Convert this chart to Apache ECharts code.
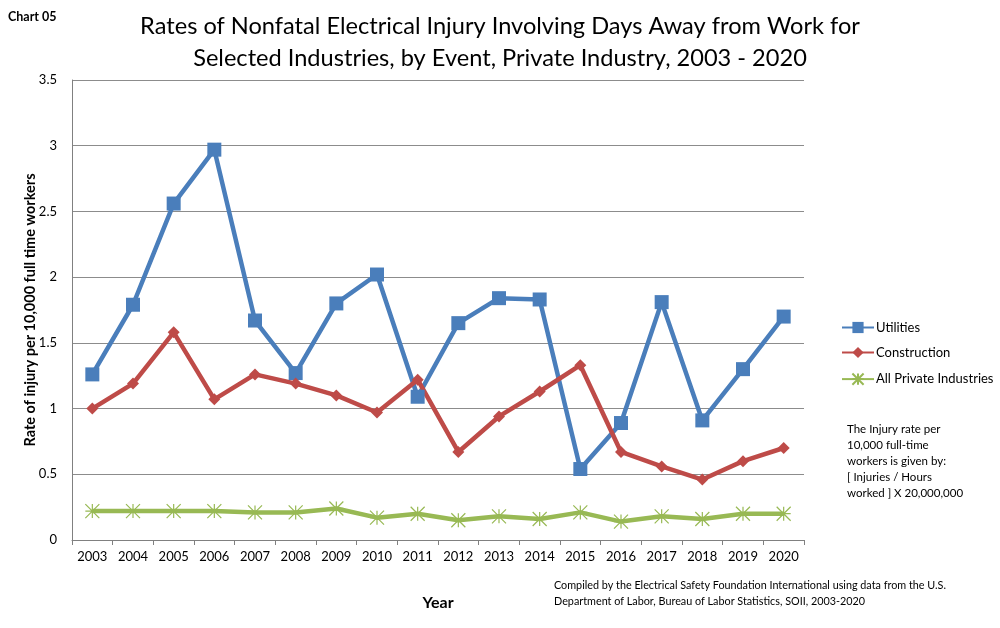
<!DOCTYPE html>
<html><head><meta charset="utf-8">
<script src="https://cdn.jsdelivr.net/npm/echarts@6/dist/echarts.min.js"></script>
<style>html,body{margin:0;padding:0;background:#fff}#c{width:1000px;height:628px}</style>
</head><body><div id="c"></div>
<script>
const years = ['2003','2004','2005','2006','2007','2008','2009','2010','2011','2012','2013','2014','2015','2016','2017','2018','2019','2020'];
const utilities = [1.26,1.79,2.56,2.97,1.67,1.27,1.80,2.02,1.09,1.65,1.84,1.83,0.54,0.89,1.81,0.91,1.30,1.70];
const construction = [1.00,1.19,1.58,1.07,1.26,1.19,1.10,0.97,1.22,0.67,0.94,1.13,1.33,0.67,0.56,0.46,0.60,0.70];
const allPrivate = [0.22,0.22,0.22,0.22,0.21,0.21,0.24,0.17,0.20,0.15,0.18,0.16,0.21,0.14,0.18,0.16,0.20,0.20];
const yTicks = ['0','0.5','1','1.5','2','2.5','3','3.5'];

const F = 'Lato, "Open Sans", sans-serif';
const star = 'path://M0,0 L10,10 M10,0 L0,10 M5,0 L5,10 M0,5 L10,5';
const chart = echarts.init(document.getElementById('c'));
chart.setOption({
  animation:false,
  title:{text:'Rates of Nonfatal Electrical Injury Involving Days Away from Work for\nSelected Industries, by Event, Private Industry, 2003 - 2020',
    left:'center', top:5, textStyle:{fontFamily:F,fontSize:23.6,fontWeight:'normal',color:'#000',lineHeight:32}},
  legend:{orient:'vertical', left:836, top:316, itemGap:12, itemWidth:32, itemHeight:14,
    textStyle:{fontFamily:F,fontSize:13,color:'#000',padding:[0,0,0,-3]},
    data:['Utilities','Construction','All Private Industries']},
  grid:{left:72,right:196,top:80,bottom:88},
  xAxis:{type:'category',data:years,boundaryGap:true,
    name:'Year',nameLocation:'middle',nameGap:55,
    nameTextStyle:{fontFamily:F,fontSize:16,fontWeight:'bold',color:'#000'},
    axisLine:{lineStyle:{color:'#808080',width:1}},
    axisTick:{show:true,length:5,lineStyle:{color:'#808080'}},
    axisLabel:{fontFamily:F,fontSize:13,color:'#000',margin:10}},
  yAxis:{type:'value',min:0,max:3.5,interval:0.5,
    name:'Rate of injury per 10,000 full time workers',nameLocation:'middle',nameGap:34,nameMoveOverlap:false,
    nameTextStyle:{fontFamily:F,fontSize:14.5,fontWeight:'bold',color:'#000'},
    axisLine:{show:true,lineStyle:{color:'#808080'}},
    axisTick:{show:false},
    axisLabel:{fontFamily:F,fontSize:13,color:'#000',margin:15,formatter:v=>yTicks[Math.round(v*2)]},
    splitLine:{lineStyle:{color:'#8c8c8c',width:1}}},
  series:[
    {name:'Utilities',type:'line',data:utilities,symbol:'rect',symbolSize:14,
      lineStyle:{color:'#4a7ebb',width:4.5},itemStyle:{color:'#4a7ebb'}},
    {name:'Construction',type:'line',data:construction,symbol:'diamond',symbolSize:12,
      lineStyle:{color:'#be4b48',width:4.5},itemStyle:{color:'#be4b48'}},
    {name:'All Private Industries',type:'line',data:allPrivate,symbol:star,symbolSize:14,
      lineStyle:{color:'#98b954',width:4.5},itemStyle:{color:'none',borderColor:'#98b954',borderWidth:1.2}}
  ],
  graphic:[
    {type:'text',left:8,top:10,style:{text:'Chart 05',font:'bold 12.5px '+F,fill:'#000'}},
    {type:'text',left:847,top:421,style:{text:'The Injury rate per\n10,000 full-time\nworkers is given by:\n[ Injuries / Hours\nworked ] X 20,000,000',font:'11.5px '+F,fill:'#000',lineHeight:16}},
    {type:'text',left:554,top:578,style:{text:'Compiled by the Electrical Safety Foundation International using data from the U.S.\nDepartment of Labor, Bureau of Labor Statistics, SOII, 2003-2020',font:'10.8px '+F,fill:'#000',lineHeight:15.5}}
  ]
});
</script></body></html>
